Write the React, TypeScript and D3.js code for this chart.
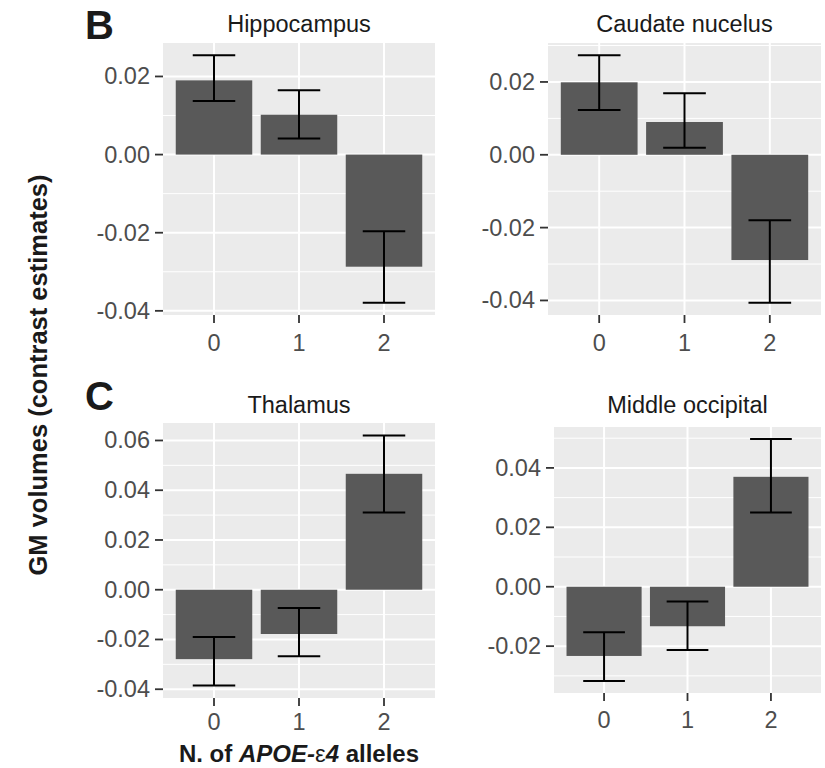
import React from "react";
import * as d3 from "d3";

// ---------- data ----------
const categories = ["0", "1", "2"];

const hippocampusMean = [0.019, 0.0102, -0.0287];
const hippocampusLower = [0.0137, 0.0041, -0.0379];
const hippocampusUpper = [0.0254, 0.0165, -0.0196];
const hippocampusTicks = [-0.04, -0.02, 0.0, 0.02];

const caudateMean = [0.0199, 0.009, -0.0289];
const caudateLower = [0.0123, 0.0019, -0.0406];
const caudateUpper = [0.0273, 0.0169, -0.018];
const caudateTicks = [-0.04, -0.02, 0.0, 0.02];

const thalamusMean = [-0.0279, -0.0178, 0.0466];
const thalamusLower = [-0.0385, -0.0267, 0.031];
const thalamusUpper = [-0.019, -0.0073, 0.062];
const thalamusTicks = [-0.04, -0.02, 0.0, 0.02, 0.04, 0.06];

const occipitalMean = [-0.0233, -0.0133, 0.037];
const occipitalLower = [-0.0317, -0.0213, 0.025];
const occipitalUpper = [-0.0153, -0.005, 0.0497];
const occipitalTicks = [-0.02, 0.0, 0.02, 0.04];

const panelTitles = ["Hippocampus", "Caudate nucelus", "Thalamus", "Middle occipital"];
const panelLetters = ["B", "C"];
const yAxisTitle = "GM volumes (contrast estimates)";

// ---------- layout ----------
const W = 825;
const H = 768;
const FONT = "'Liberation Sans', Arial, Helvetica, sans-serif";
const TICK_FS = 23.5;
const TITLE_FS = 23.5;

type Panel = {
  title: string;
  mean: number[];
  lower: number[];
  upper: number[];
  ticks: number[];
  x0: number;
  x1: number;
  y0: number;
  y1: number;
  titleY: number;
  xLabelY: number;
};

const panels: Panel[] = [
  { title: panelTitles[0], mean: hippocampusMean, lower: hippocampusLower, upper: hippocampusUpper, ticks: hippocampusTicks, x0: 163, x1: 435, y0: 43, y1: 315, titleY: 32, xLabelY: 351 },
  { title: panelTitles[1], mean: caudateMean, lower: caudateLower, upper: caudateUpper, ticks: caudateTicks, x0: 548, x1: 821, y0: 43, y1: 315, titleY: 32, xLabelY: 351 },
  { title: panelTitles[2], mean: thalamusMean, lower: thalamusLower, upper: thalamusUpper, ticks: thalamusTicks, x0: 163, x1: 435, y0: 423, y1: 698, titleY: 413, xLabelY: 730 },
  { title: panelTitles[3], mean: occipitalMean, lower: occipitalLower, upper: occipitalUpper, ticks: occipitalTicks, x0: 554, x1: 821, y0: 427, y1: 693, titleY: 413, xLabelY: 728 },
];

const fmt = (v: number) => d3.format(".2f")(v).replace("\u2212", "-");

function PanelView({ p }: { p: Panel }) {
  const lo = Math.min(0, d3.min(p.lower)!, d3.min(p.mean)!);
  const hi = Math.max(0, d3.max(p.upper)!, d3.max(p.mean)!);
  const pad = (hi - lo) * 0.05;
  const y = d3.scaleLinear().domain([lo - pad, hi + pad]).range([p.y1, p.y0]);
  const x = d3
    .scaleBand<string>()
    .domain(categories)
    .range([p.x0, p.x1])
    .paddingInner(0.1)
    .paddingOuter(0.15);
  const bw = x.bandwidth();
  const step = x.step();
  const cx = (c: string) => (x(c) as number) + bw / 2;

  const [dLo, dHi] = y.domain();
  const tickStep = p.ticks[1] - p.ticks[0];
  const minors: number[] = [];
  for (let i = -1; i < p.ticks.length; i++) {
    const m = p.ticks[0] + (i + 0.5) * tickStep;
    if (m >= dLo && m <= dHi) minors.push(m);
  }

  return (
    <g>
      <rect x={p.x0} y={p.y0} width={p.x1 - p.x0} height={p.y1 - p.y0} fill="#EBEBEB" />
      {minors.map((m, i) => (
        <line key={"mn" + i} x1={p.x0} x2={p.x1} y1={y(m)} y2={y(m)} stroke="#fff" strokeWidth={1} />
      ))}
      {p.ticks.map((t, i) => (
        <line key={"mj" + i} x1={p.x0} x2={p.x1} y1={y(t)} y2={y(t)} stroke="#fff" strokeWidth={2} />
      ))}
      {categories.map((c) => (
        <line key={"vx" + c} x1={cx(c)} x2={cx(c)} y1={p.y0} y2={p.y1} stroke="#fff" strokeWidth={2} />
      ))}
      {categories.map((c, i) => {
        const v = p.mean[i];
        return (
          <rect
            key={"bar" + c}
            x={x(c)}
            width={bw}
            y={Math.min(y(v), y(0))}
            height={Math.abs(y(v) - y(0))}
            fill="#595959"
          />
        );
      })}
      {categories.map((c, i) => {
        const hw = step * 0.25;
        const xc = cx(c);
        return (
          <g key={"eb" + c} stroke="#000" strokeWidth={2}>
            <line x1={xc} x2={xc} y1={y(p.lower[i])} y2={y(p.upper[i])} />
            <line x1={xc - hw} x2={xc + hw} y1={y(p.lower[i])} y2={y(p.lower[i])} />
            <line x1={xc - hw} x2={xc + hw} y1={y(p.upper[i])} y2={y(p.upper[i])} />
          </g>
        );
      })}
      {/* y axis ticks */}
      {p.ticks.map((t, i) => (
        <g key={"yt" + i}>
          <line x1={p.x0 - 8} x2={p.x0} y1={y(t)} y2={y(t)} stroke="#333" strokeWidth={1.8} />
          <text
            x={p.x0 - 13}
            y={y(t)}
            textAnchor="end"
            dominantBaseline="central"
            fontFamily={FONT}
            fontSize={TICK_FS}
            fill="#4D4D4D"
          >
            {fmt(t)}
          </text>
        </g>
      ))}
      {/* x axis ticks */}
      {categories.map((c) => (
        <g key={"xt" + c}>
          <line x1={cx(c)} x2={cx(c)} y1={p.y1} y2={p.y1 + 8} stroke="#333" strokeWidth={1.8} />
          <text x={cx(c)} y={p.xLabelY} textAnchor="middle" fontFamily={FONT} fontSize={TICK_FS} fill="#4D4D4D">
            {c}
          </text>
        </g>
      ))}
      <text
        x={(p.x0 + p.x1) / 2}
        y={p.titleY}
        textAnchor="middle"
        fontFamily={FONT}
        fontSize={TITLE_FS}
        fill="#1A1A1A"
      >
        {p.title}
      </text>
    </g>
  );
}

export default function App() {
  return (
    <div style={{ position: "absolute", left: 0, top: 0 }}>
      <svg width={W} height={H} viewBox={`0 0 ${W} ${H}`} style={{ display: "block", background: "#fff" }}>
        <rect x={0} y={0} width={W} height={H} fill="#fff" />
        {panels.map((p, i) => (
          <PanelView key={i} p={p} />
        ))}
        <text x={85} y={39} fontFamily={FONT} fontSize={40} fontWeight="bold" fill="#1A1A1A">
          {panelLetters[0]}
        </text>
        <text x={85} y={410} fontFamily={FONT} fontSize={40} fontWeight="bold" fill="#1A1A1A">
          {panelLetters[1]}
        </text>
        <text
          transform="translate(47,375) rotate(-90)"
          textAnchor="middle"
          fontFamily={FONT}
          fontSize={25.5}
          fontWeight="bold"
          fill="#1A1A1A"
        >
          {yAxisTitle}
        </text>
        <text x={299} y={762} textAnchor="middle" fontFamily={FONT} fontSize={24} fontWeight="bold" fill="#1A1A1A">
          N. of{" "}
          <tspan fontStyle="italic">APOE-</tspan>
          <tspan fontStyle="normal" fontWeight="normal">ε</tspan>
          <tspan fontStyle="italic">4</tspan> alleles
        </text>
      </svg>
    </div>
  );
}
